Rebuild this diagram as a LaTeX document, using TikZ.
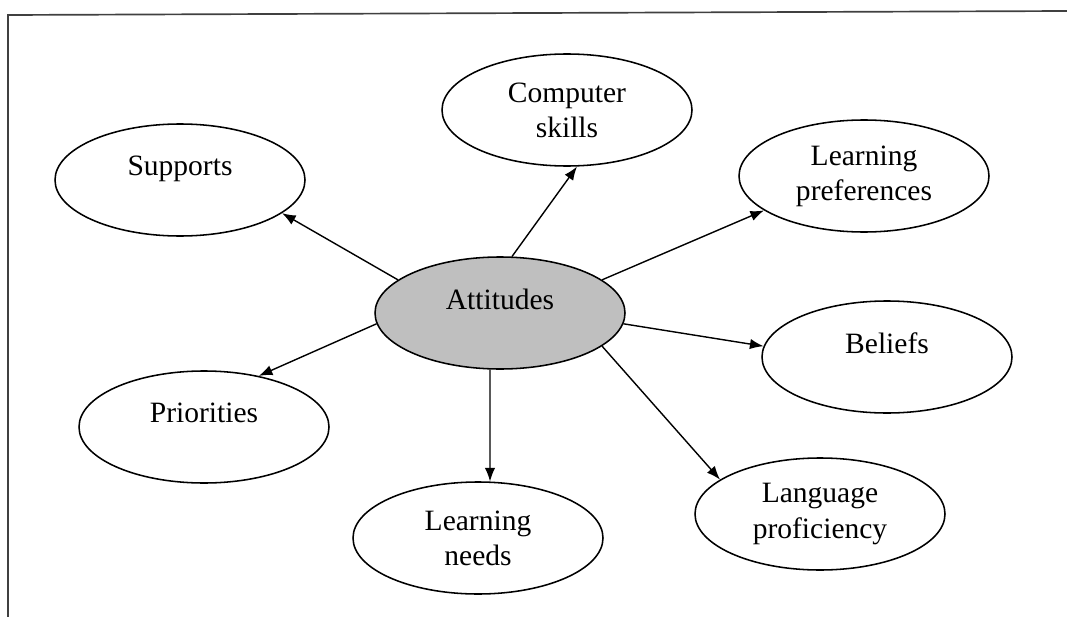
\documentclass[tikz,border=0pt]{standalone}
\usepackage{fontspec}
\setmainfont{Liberation Serif}
\usetikzlibrary{shapes.geometric,arrows.meta}

\begin{document}
\begin{tikzpicture}[bub/.style={ellipse,draw,line width=1.1pt,minimum
        width=6.25cm,minimum height=2.8cm,inner sep=0pt,align=center,
        font=\fontsize{21}{25}\selectfont},oneline/.style={text
        depth=20pt},arr/.style={-{Latex[length=3.4mm,width=2.6mm]},line
        width=1pt}]

    \useasboundingbox (0,0) rectangle (26.675,15.4);

    % the frame
    \draw[line width=1.2pt,black!75] (0.2,-0.1) -- (0.2,15.025) --
    (26.675,15.125);

    % the bubbles
    \node[bub,fill=black!25,oneline] (att) at (12.5,7.575) {Attitudes};
    \node[bub] (comp) at (14.175,12.65) {Computer\\skills};
    \node[bub,oneline] (sup) at (4.5,10.9) {Supports};
    \node[bub] (pref) at (21.6,11.0) {Learning\\preferences};
    \node[bub,oneline] (bel) at (22.175,6.475) {Beliefs};
    \node[bub,oneline] (pri) at (5.1,4.725) {Priorities};
    \node[bub] (need) at (11.95,1.95) {Learning\\needs};
    \node[bub] (lang) at (20.5,2.55) {Language\\proficiency};

    % the arrows
    \draw[arr] (att.78) to (comp.280);
    \draw[arr] (att.162) to (sup.342);
    \draw[arr] (att.18) to (pref.199);
    \draw[arr] (att.355) to (bel.175);
    \draw[arr] (att.342) to (lang.161);
    \draw[arr] (att.260) to (need.78);
    \draw[arr] (att.185) to (pri.43);
  \end{tikzpicture}
\end{document}
